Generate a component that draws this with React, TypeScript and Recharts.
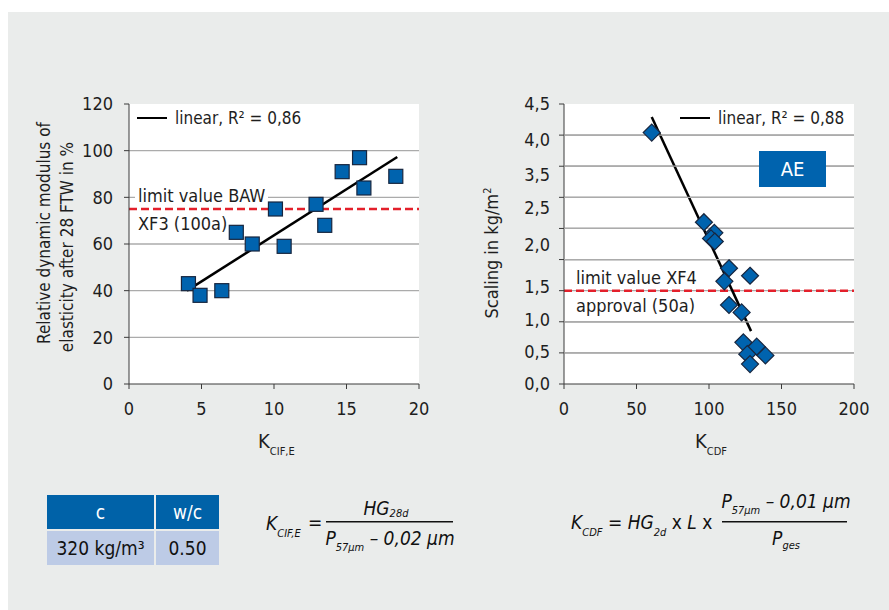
import React from 'react';
import {
  ScatterChart,
  Scatter,
  XAxis,
  YAxis,
  CartesianGrid,
  ReferenceLine,
  Legend,
} from 'recharts';

const FONT = '"Liberation Sans Narrow", "Arial Narrow", "DejaVu Sans Condensed", sans-serif';
const BLUE = '#0063ae';
const MARK_STROKE = '#17263f';
const GRID = '#ababab';
const AXIS = '#3a3a3a';
const RED = '#e3202b';
const TXT = '#1e1e1e';

// ---- left chart: K_CIF,E vs relative dynamic modulus ----
const kCifE = [4.1, 4.9, 6.4, 7.4, 8.5, 10.1, 10.7, 12.9, 13.5, 14.7, 15.9, 16.2, 18.4];
const modulus = [43, 38, 40, 65, 60, 75, 59, 77, 68, 91, 97, 84, 89];
const leftTrendX = [4.0, 18.5];
const leftTrendY = [40, 97.3];
const limitBAW = 75;
const leftXTicks = [0, 5, 10, 15, 20];
const leftYTicks = [0, 20, 40, 60, 80, 100, 120];

// ---- right chart: K_CDF vs scaling ----
const kCdf = [60.5, 96.5, 103.7, 101.4, 104, 113.8, 128.3, 110.6, 113.8, 122.5, 123.7, 132.9, 126.4, 138.9, 128.3];
const scaling = [4.04, 2.6, 2.43, 2.34, 2.29, 1.86, 1.74, 1.65, 1.27, 1.15, 0.67, 0.6, 0.48, 0.46, 0.32];
const rightTrendX = [60.5, 129];
const rightTrendY = [4.29, 0.85];
const limitXF4 = 1.5;
const rightXTicks = [0, 50, 100, 150, 200];
const rightXDomain = [0, 200];
const scalingGridTicks = [0, 0.5, 1, 1.5, 2, 2.5, 3, 3.5, 4, 4.5];
const scalingGridValues = [0.5, 1, 2, 2.5, 3, 3.5, 4];
const scalingLabelTicks = [0, 0.52, 1.03, 1.56, 2.24, 2.84, 3.37, 3.93, 4.5];
const scalingLabels = ['0,0', '0,5', '1,0', '1,5', '2,0', '2,5', '3,5', '4,0', '4,5'];

const leftPoints = kCifE.map((x, i) => ({ x, y: modulus[i] }));
const rightPoints = kCdf.map((x, i) => ({ x, y: scaling[i] }));
const leftTrend = leftTrendX.map((x, i) => ({ x, y: leftTrendY[i] }));
const rightTrend = rightTrendX.map((x, i) => ({ x, y: rightTrendY[i] }));
const rightGridSeries = scalingGridValues.map((v) => rightXDomain.map((x) => ({ x, y: v })));

const tickStyle = { fontFamily: FONT, fontSize: 18, fill: TXT };

const SquareShape = (props: any) => {
  const { cx, cy } = props;
  const s = 14;
  return <rect x={cx - s / 2} y={cy - s / 2} width={s} height={s} fill={BLUE} stroke={MARK_STROKE} strokeWidth={1.2} />;
};

const DiamondShape = (props: any) => {
  const { cx, cy } = props;
  const r = 8.5;
  return (
    <polygon
      points={`${cx},${cy - r} ${cx + r},${cy} ${cx},${cy + r} ${cx - r},${cy}`}
      fill={BLUE}
      stroke={MARK_STROKE}
      strokeWidth={1.2}
    />
  );
};

const NoShape = () => <g />;

const makeGridLine = (count: number) => (props: any) => {
  const { x1, x2, y1, y2, index } = props;
  if (index === 0 || index === count - 1) return <g key={props.key} />;
  return <line key={props.key} x1={x1} x2={x2} y1={y1} y2={y2} stroke={GRID} strokeWidth={1.3} />;
};

const LegendContent = (label: string) => () => (
  <div style={{ display: 'flex', alignItems: 'center', fontFamily: FONT, fontSize: 17, color: TXT, whiteSpace: 'nowrap' }}>
    <span style={{ display: 'inline-block', width: 30, height: 2.5, background: '#000', marginRight: 8 }} />
    <span>{label}</span>
  </div>
);

const BawLabel = (props: any) => {
  const vb = props.viewBox || {};
  return (
    <g>
      <rect x={vb.x + 6} y={vb.y - 23} width={133} height={17} fill="#fff" />
      <text x={vb.x + 9} y={vb.y - 7.5} fontFamily={FONT} fontSize={18} fill={TXT}>limit value BAW</text>
      <text x={vb.x + 9} y={vb.y + 20.5} fontFamily={FONT} fontSize={18} fill={TXT}>XF3 (100a)</text>
    </g>
  );
};

const Xf4Label = (props: any) => {
  const vb = props.viewBox || {};
  return (
    <g>
      <text x={vb.x + 12} y={vb.y - 7} fontFamily={FONT} fontSize={18} fill={TXT}>limit value XF4</text>
      <text x={vb.x + 12} y={vb.y + 21} fontFamily={FONT} fontSize={18} fill={TXT}>approval (50a)</text>
    </g>
  );
};

const ScalingTickLabel = (text: string) => (props: any) => {
  const vb = props.viewBox || {};
  return (
    <text x={vb.x - 14} y={vb.y} dy="0.36em" textAnchor="end" fontFamily={FONT} fontSize={18} fill={TXT}>
      {text}
    </text>
  );
};

const LeftYLabel = () => (
  <g fontFamily={FONT} fontSize={17} fill={TXT}>
    <text transform="translate(50,233) rotate(-90)" textAnchor="middle">Relative dynamic modulus of</text>
    <text transform="translate(73,247) rotate(-90)" textAnchor="middle">elasticity after 28 FTW  in %</text>
  </g>
);

const RightYLabel = () => (
  <g fontFamily={FONT} fontSize={18} fill={TXT}>
    <text transform="translate(58,253) rotate(-90)" textAnchor="middle">
      Scaling in kg/m<tspan fontSize={11} dy={-7}>2</tspan>
    </text>
  </g>
);

const XLabel = (main: string, sub: string, x: number) => () => (
  <g fontFamily={FONT} fill={TXT}>
    <text x={x} y={448} fontSize={20}>
      {main}
      <tspan fontSize={11} dy={7}>{sub}</tspan>
    </text>
  </g>
);

const fItalic = { fontFamily: FONT, fontStyle: 'italic' as const, fill: '#111', fontSize: 19 };

export default function App() {
  return (
    <div style={{ position: 'relative', width: 889, height: 610, background: '#fff', overflow: 'hidden' }}>
      <style>{`body{margin:0}`}</style>
      <div style={{ position: 'absolute', left: 8, top: 12, right: 0, bottom: 0, background: '#eaeceb' }} />

      {/* left chart */}
      <div style={{ position: 'absolute', left: 0, top: 0 }}>
        <ScatterChart width={440} height={460} margin={{ top: 104, right: 21, bottom: 16, left: 0 }}>
          <CartesianGrid
            vertical={false}
            fill="#fff"
            horizontal={makeGridLine(leftYTicks.length)}
          />
          <XAxis
            type="number"
            dataKey="x"
            domain={[0, 20]}
            ticks={leftXTicks}
            interval={0}
            height={60}
            tickSize={5}
            tickMargin={13}
            stroke={AXIS}
            tick={tickStyle}
            label={{ content: XLabel('K', 'CIF,E', 258) }}
          />
          <YAxis
            type="number"
            dataKey="y"
            domain={[0, 120]}
            ticks={leftYTicks}
            interval={0}
            width={129}
            tickSize={5}
            tickMargin={11}
            stroke={AXIS}
            tick={tickStyle}
            label={{ content: LeftYLabel }}
          />
          <ReferenceLine y={limitBAW} stroke={RED} strokeWidth={2.5} strokeDasharray="8 4" label={{ content: BawLabel }} />
          <ReferenceLine segment={leftTrend} stroke="#000" strokeWidth={2.5} />
          <Scatter data={leftPoints} shape={SquareShape} isAnimationActive={false} />
          <Legend
            layout="horizontal"
            verticalAlign="middle"
            align="center"
            content={LegendContent('linear, R² = 0,86')}
            wrapperStyle={{ left: 137, top: 108, width: 'auto', height: 22 }}
          />
        </ScatterChart>
      </div>

      {/* right chart */}
      <div style={{ position: 'absolute', left: 440, top: 0 }}>
        <ScatterChart width={440} height={460} margin={{ top: 104, right: 26, bottom: 16, left: 0 }}>
          <CartesianGrid
            vertical={false}
            fill="#fff"
            horizontal={makeGridLine(scalingGridTicks.length)}
          />
          <XAxis
            type="number"
            dataKey="x"
            domain={rightXDomain}
            ticks={rightXTicks}
            interval={0}
            height={60}
            tickSize={5}
            tickMargin={13}
            stroke={AXIS}
            tick={tickStyle}
            label={{ content: XLabel('K', 'CDF', 255) }}
          />
          <YAxis
            type="number"
            dataKey="y"
            domain={[0, 4.5]}
            ticks={scalingGridTicks}
            interval={0}
            width={124}
            tickSize={5}
            tickMargin={8}
            stroke={AXIS}
            tick={tickStyle}
            tickFormatter={() => ''}
            label={{ content: RightYLabel }}
          />
          {scalingGridValues.map((v) => (
            <ReferenceLine key={`g${v}`} y={v} stroke={GRID} strokeWidth={1.3} />
          ))}
          {scalingLabelTicks.map((v, i) => (
            <ReferenceLine key={`l${v}`} y={v} stroke="none" label={{ content: ScalingTickLabel(scalingLabels[i]) }} />
          ))}
          {rightGridSeries.map((pts, i) => (
            <Scatter
              key={`gs${i}`}
              data={pts}
              line={{ stroke: GRID, strokeWidth: 1.3 }}
              shape={NoShape}
              legendType="none"
              isAnimationActive={false}
            />
          ))}
          <ReferenceLine y={limitXF4} stroke={RED} strokeWidth={2.5} strokeDasharray="8 4" label={{ content: Xf4Label }} />
          <ReferenceLine segment={rightTrend} stroke="#000" strokeWidth={2.5} />
          <Scatter data={rightPoints} shape={DiamondShape} isAnimationActive={false} />
          <Legend
            layout="horizontal"
            verticalAlign="middle"
            align="center"
            content={LegendContent('linear, R² = 0,88')}
            wrapperStyle={{ left: 240, top: 108, width: 'auto', height: 22 }}
          />
        </ScatterChart>
      </div>

      {/* AE box */}
      <div
        style={{
          position: 'absolute', left: 759, top: 151, width: 67, height: 36, background: BLUE, color: '#fff',
          fontFamily: FONT, fontSize: 20, display: 'flex', alignItems: 'center', justifyContent: 'center',
        }}
      >
        AE
      </div>

      {/* table */}
      <div style={{ position: 'absolute', left: 47, top: 495, width: 172, height: 70, fontFamily: FONT, fontSize: 19 }}>
        <div style={{ position: 'absolute', left: 0, top: 0, width: 107, height: 34, background: '#0062a8', color: '#fff', display: 'flex', alignItems: 'center', justifyContent: 'center' }}>c</div>
        <div style={{ position: 'absolute', left: 109, top: 0, width: 63, height: 34, background: '#0062a8', color: '#fff', display: 'flex', alignItems: 'center', justifyContent: 'center' }}>w/c</div>
        <div style={{ position: 'absolute', left: 0, top: 36, width: 107, height: 34, background: '#bdcbe6', color: '#111', display: 'flex', alignItems: 'center', justifyContent: 'center' }}>320 kg/m³</div>
        <div style={{ position: 'absolute', left: 109, top: 36, width: 63, height: 34, background: '#bdcbe6', color: '#111', display: 'flex', alignItems: 'center', justifyContent: 'center' }}>0.50</div>
      </div>

      {/* formulas */}
      <svg width={889} height={610} style={{ position: 'absolute', left: 0, top: 0, pointerEvents: 'none' }}>
        <text x={266} y={530} {...fItalic}>
          K<tspan fontSize={11} dy={7}>CIF,E</tspan>
        </text>
        <text x={308} y={529} {...fItalic} fontStyle="normal">=</text>
        <line x1={326} x2={453} y1={521.7} y2={521.7} stroke="#111" strokeWidth={1.5} />
        <text x={386} y={515} textAnchor="middle" {...fItalic}>
          HG<tspan fontSize={11} dy={2}>28d</tspan>
        </text>
        <text x={390} y={545} textAnchor="middle" {...fItalic}>
          P<tspan fontSize={11} dy={6}>57μm</tspan><tspan dy={-6}> – 0,02 μm</tspan>
        </text>

        <text x={571} y={529} {...fItalic}>
          K<tspan fontSize={11} dy={7}>CDF</tspan>
          <tspan dy={-7} fontStyle="normal"> = </tspan>HG<tspan fontSize={11} dy={7}>2d</tspan>
          <tspan dy={-7} fontStyle="normal"> x </tspan>L<tspan fontStyle="normal"> x</tspan>
        </text>
        <line x1={722} x2={847} y1={521.7} y2={521.7} stroke="#111" strokeWidth={1.5} />
        <text x={786} y={508} textAnchor="middle" {...fItalic}>
          P<tspan fontSize={11} dy={6}>57μm</tspan><tspan dy={-6}> – 0,01 μm</tspan>
        </text>
        <text x={786} y={545} textAnchor="middle" {...fItalic}>
          P<tspan fontSize={11} dy={4}>ges</tspan>
        </text>
      </svg>
    </div>
  );
}
